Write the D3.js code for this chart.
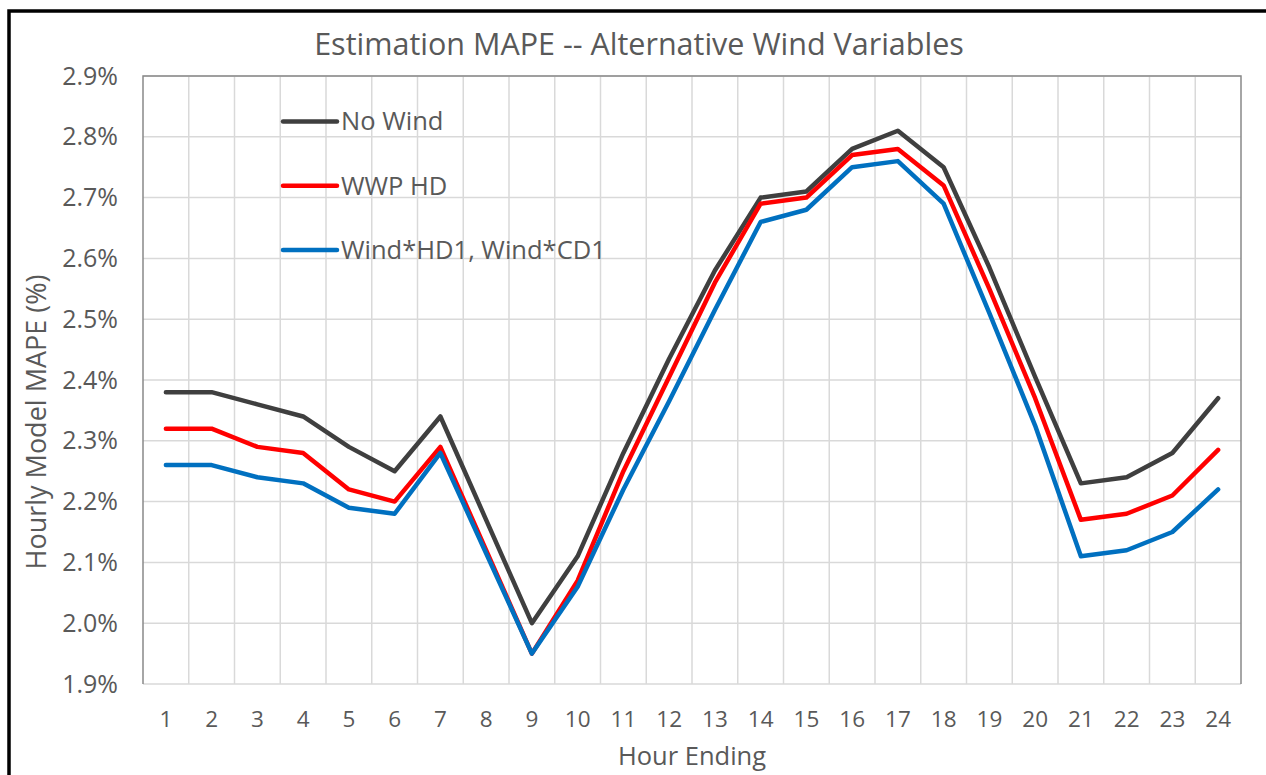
<!DOCTYPE html>
<html>
<head>
<meta charset="utf-8">
<script src="https://cdn.jsdelivr.net/npm/d3@7"></script>
<style>
  html, body { margin: 0; padding: 0; background: #fff; }
  svg { display: block; }
  text { font-family: "Open Sans", "Noto Sans", sans-serif; fill: #595959; }
</style>
</head>
<body>
<svg id="chart" width="1266" height="775"></svg>
<script>
// Hour-ending categories and MAPE (%) by model variant
const hours = ["1","2","3","4","5","6","7","8","9","10","11","12",
               "13","14","15","16","17","18","19","20","21","22","23","24"];
const noWind   = [2.38,2.38,2.36,2.34,2.29,2.25,2.34,2.17,2.00,2.11,2.28,2.435,
                  2.58,2.70,2.71,2.78,2.81,2.75,2.585,2.405,2.23,2.24,2.28,2.37];
const wwpHD    = [2.32,2.32,2.29,2.28,2.22,2.20,2.29,2.12,1.95,2.07,2.25,2.405,
                  2.56,2.69,2.70,2.77,2.78,2.72,2.55,2.37,2.17,2.18,2.21,2.285];
const windHDCD = [2.26,2.26,2.24,2.23,2.19,2.18,2.28,2.115,1.95,2.06,2.22,2.365,
                  2.515,2.66,2.68,2.75,2.76,2.69,2.51,2.325,2.11,2.12,2.15,2.22];
const yTicks = [1.9,2.0,2.1,2.2,2.3,2.4,2.5,2.6,2.7,2.8,2.9];

const seriesNames  = ["No Wind", "WWP HD", "Wind*HD1, Wind*CD1"];
const seriesColors = ["#3f3f3f", "#ff0000", "#0070c0"];
const series = [noWind, wwpHD, windHDCD].map((values, i) => ({
  name: seriesNames[i], color: seriesColors[i], values
}));

const svg = d3.select("#chart");
const plot = { left: 143, right: 1241, top: 76, bottom: 684 };

const x = d3.scaleBand().domain(hours).range([plot.left, plot.right]).padding(0);
const y = d3.scaleLinear().domain([1.9, 2.9]).range([plot.bottom, plot.top]);

// Outer frame
svg.append("rect")
  .attr("x", 9).attr("y", 11).attr("width", 1300).attr("height", 800)
  .attr("fill", "none").attr("stroke", "#000").attr("stroke-width", 3.5);

// Grid: horizontal at value ticks, vertical at category boundaries
const grid = svg.append("g").attr("stroke", "#d9d9d9").attr("stroke-width", 1.5);
grid.selectAll("line.h").data(yTicks).join("line")
  .attr("x1", plot.left).attr("x2", plot.right)
  .attr("y1", d => y(d)).attr("y2", d => y(d));
grid.selectAll("line.v").data(hours.slice(1)).join("line")
  .attr("x1", d => x(d)).attr("x2", d => x(d))
  .attr("y1", plot.top).attr("y2", plot.bottom);

// Plot-area border (top, left, right)
svg.append("path")
  .attr("d", `M${plot.left},${plot.bottom}V${plot.top}H${plot.right}V${plot.bottom}`)
  .attr("fill", "none").attr("stroke", "#898989").attr("stroke-width", 1.5);

// Axes
const fmt = d => d.toFixed(1) + "%";
const yAxis = svg.append("g")
  .attr("transform", `translate(${plot.left},0)`)
  .call(d3.axisLeft(y).tickValues(yTicks).tickFormat(fmt).tickSize(0).tickPadding(25));
yAxis.select(".domain").remove();
yAxis.selectAll("text").style("font-size", "25px").attr("fill", "#595959");

const xAxis = svg.append("g")
  .attr("transform", `translate(0,${plot.bottom})`)
  .call(d3.axisBottom(x).tickSize(0).tickPadding(27));
xAxis.select(".domain").remove();
xAxis.selectAll("text").style("font-size", "22.5px").attr("fill", "#595959");

// Series lines
const line = d3.line()
  .x((d, i) => x(hours[i]) + x.bandwidth() / 2)
  .y(d => y(d));
svg.append("g").selectAll("path").data(series).join("path")
  .attr("d", s => line(s.values))
  .attr("fill", "none")
  .attr("stroke", s => s.color)
  .attr("stroke-width", 4.5)
  .attr("stroke-linejoin", "round")
  .attr("stroke-linecap", "round");

// Legend
const legend = svg.append("g").selectAll("g").data(series).join("g")
  .attr("transform", (s, i) => `translate(283,${121.5 + i * 64.3})`);
legend.append("line")
  .attr("x1", 0).attr("x2", 54).attr("y1", 0).attr("y2", 0)
  .attr("stroke", s => s.color).attr("stroke-width", 4.5).attr("stroke-linecap", "round");
legend.append("text")
  .attr("x", 58).attr("y", 0).attr("dy", "0.35em")
  .style("font-size", "25.5px")
  .text(s => s.name);

// Titles
svg.append("text")
  .attr("x", 639).attr("y", 55)
  .attr("text-anchor", "middle")
  .style("font-size", "30.5px")
  .text("Estimation MAPE -- Alternative Wind Variables");

svg.append("text")
  .attr("x", (plot.left + plot.right) / 2).attr("y", 765)
  .attr("text-anchor", "middle")
  .style("font-size", "25.5px")
  .text("Hour Ending");

svg.append("text")
  .attr("transform", "translate(46,422) rotate(-90)")
  .attr("text-anchor", "middle")
  .style("font-size", "27px")
  .text("Hourly Model MAPE (%)");
</script>
</body>
</html>
